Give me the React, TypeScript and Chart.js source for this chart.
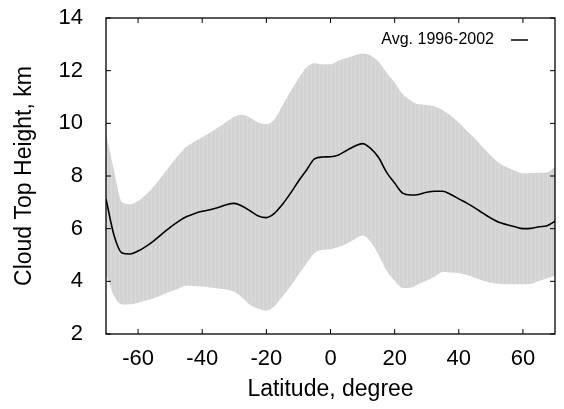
import React, { useEffect, useRef } from "react";
import { Chart, registerables } from "chart.js";

Chart.register(...registerables);

const latitudes = [
  -70, -67.5, -65, -62.5, -60, -57.5, -55, -52.5, -50, -47.5, -45, -42.5, -40, -37.5, -35, -32.5, -30, -27.5,
  -25, -22.5, -20, -17.5, -15, -12.5, -10, -7.5, -5, -2.5, 0, 2.5, 5, 7.5, 10, 12.5, 15, 17.5, 20, 22.5, 25,
  27.5, 30, 32.5, 35, 37.5, 40, 42.5, 45, 47.5, 50, 52.5, 55, 57.5, 60, 62.5, 65, 67.5, 70,
];

const meanHeight = [
  7.13, 5.75, 5.08, 5.04, 5.15, 5.33, 5.55, 5.8, 6.05, 6.27, 6.45, 6.57, 6.66, 6.72, 6.8, 6.91, 6.96, 6.85,
  6.67, 6.48, 6.42, 6.58, 6.92, 7.34, 7.8, 8.22, 8.65, 8.72, 8.73, 8.8, 8.97, 9.13, 9.23, 9.05, 8.7, 8.14, 7.73,
  7.35, 7.28, 7.3, 7.38, 7.42, 7.42, 7.3, 7.13, 6.97, 6.79, 6.59, 6.4, 6.24, 6.15, 6.07, 6.0, 6.01, 6.07, 6.11,
  6.28,
];

const upperHeight = [
  9.64, 8.2, 7.0, 6.93, 7.05, 7.3, 7.62, 8.0, 8.4, 8.78, 9.1, 9.3, 9.47, 9.65, 9.85, 10.05, 10.25, 10.33, 10.21,
  10.03, 9.97, 10.15, 10.68, 11.2, 11.7, 12.12, 12.28, 12.24, 12.24, 12.38, 12.48, 12.58, 12.65, 12.58, 12.34,
  11.92, 11.55, 11.1, 10.87, 10.72, 10.7, 10.64, 10.5, 10.3, 10.03, 9.72, 9.43, 9.08, 8.78, 8.5, 8.33, 8.2, 8.1,
  8.11, 8.12, 8.13, 8.35,
];

const lowerHeight = [
  4.3, 3.45, 3.12, 3.13, 3.19, 3.27, 3.36, 3.48, 3.61, 3.72, 3.83, 3.82, 3.8, 3.77, 3.73, 3.69, 3.6, 3.38, 3.1,
  2.96, 2.89, 3.05, 3.42, 3.8, 4.25, 4.68, 5.07, 5.2, 5.22, 5.3, 5.43, 5.6, 5.74, 5.5, 5.0, 4.4, 4.02, 3.75, 3.76,
  3.9, 4.03, 4.18, 4.35, 4.34, 4.31, 4.24, 4.14, 4.03, 3.95, 3.91, 3.89, 3.89, 3.89, 3.91, 4.01, 4.12, 4.21,
];

const xTickValues = [-60, -40, -20, 0, 20, 40, 60];
const yTickValues = [2, 4, 6, 8, 10, 12, 14];
const legendLabel = "Avg. 1996-2002";
const xTitle = "Latitude, degree";
const yTitle = "Cloud Top Height, km";

const FONT = "'Liberation Sans', Arial, Helvetica, sans-serif";

function makeBandPattern(): CanvasPattern | string {
  const c = document.createElement("canvas");
  c.width = 4;
  c.height = 1;
  const g = c.getContext("2d");
  if (!g) return "#d3d3d3";
  g.fillStyle = "#d3d3d3";
  g.fillRect(0, 0, 4, 1);
  g.fillStyle = "#dadada";
  g.fillRect(3, 0, 1, 1);
  const p = g.createPattern(c, "repeat");
  return p || "#d3d3d3";
}

const frameAndLegend = {
  id: "frameAndLegend",
  afterDatasetsDraw(chart: any) {
    const { ctx, chartArea } = chart;
    const { left, right, top, bottom } = chartArea;
    const xs = chart.scales.x;
    const ys = chart.scales.y;
    ctx.save();
    ctx.strokeStyle = "#000";
    ctx.lineWidth = 1.3;
    ctx.strokeRect(left, top, right - left, bottom - top);
    const tl = 5;
    ctx.beginPath();
    for (const v of xTickValues) {
      const px = xs.getPixelForValue(v);
      ctx.moveTo(px, bottom);
      ctx.lineTo(px, bottom - tl);
      ctx.moveTo(px, top);
      ctx.lineTo(px, top + tl);
    }
    for (const v of yTickValues) {
      const py = ys.getPixelForValue(v);
      ctx.moveTo(left, py);
      ctx.lineTo(left + tl, py);
      ctx.moveTo(right, py);
      ctx.lineTo(right - tl, py);
    }
    ctx.lineWidth = 1;
    ctx.stroke();

    // legend
    ctx.font = `16px ${FONT}`;
    ctx.fillStyle = "#000";
    ctx.textAlign = "right";
    ctx.textBaseline = "middle";
    const ly = top + 22;
    ctx.fillText(legendLabel, right - 61, ly);
    ctx.beginPath();
    ctx.moveTo(right - 44, ly);
    ctx.lineTo(right - 27, ly);
    ctx.lineWidth = 1.5;
    ctx.stroke();
    ctx.restore();
  },
};

export default function App() {
  const ref = useRef<HTMLCanvasElement | null>(null);

  useEffect(() => {
    document.body.style.margin = "0";
    const canvas = ref.current;
    if (!canvas) return;
    const band = makeBandPattern();
    const pts = (ys: number[]) => latitudes.map((x, i) => ({ x, y: ys[i] }));

    const chart = new Chart(canvas, {
      type: "line",
      data: {
        datasets: [
          {
            label: legendLabel,
            data: pts(meanHeight),
            borderColor: "#000",
            borderWidth: 1.6,
            pointRadius: 0,
            fill: false,
            cubicInterpolationMode: "monotone",
          },
          {
            label: "upper",
            data: pts(upperHeight),
            borderWidth: 0,
            borderColor: "rgba(0,0,0,0)",
            backgroundColor: band as any,
            pointRadius: 0,
            fill: 2,
            cubicInterpolationMode: "monotone",
          },
          {
            label: "lower",
            data: pts(lowerHeight),
            borderWidth: 0,
            borderColor: "rgba(0,0,0,0)",
            pointRadius: 0,
            fill: false,
            cubicInterpolationMode: "monotone",
          },
        ],
      },
      options: {
        animation: false,
        responsive: false,
        maintainAspectRatio: false,
        layout: { padding: { top: 18, right: 9, left: 0, bottom: 0 } },
        plugins: {
          legend: { display: false },
          tooltip: { enabled: false },
        },
        scales: {
          x: {
            type: "linear",
            min: -70,
            max: 70,
            grid: { display: false },
            border: { display: false },
            afterBuildTicks: (s: any) => {
              s.ticks = xTickValues.map((v) => ({ value: v }));
            },
            afterFit: (s: any) => {
              s.height = 75;
              s.paddingLeft = 0;
              s.paddingRight = 0;
            },
            ticks: {
              color: "#000",
              font: { family: FONT, size: 22 },
              padding: 4,
              maxRotation: 0,
              autoSkip: false,
            },
            title: {
              display: true,
              text: xTitle,
              color: "#000",
              font: { family: FONT, size: 23 },
              padding: { top: 0, bottom: 6 },
            },
          },
          y: {
            type: "linear",
            min: 2,
            max: 14,
            grid: { display: false },
            border: { display: false },
            afterBuildTicks: (s: any) => {
              s.ticks = yTickValues.map((v) => ({ value: v }));
            },
            afterFit: (s: any) => {
              s.width = 106;
              s.paddingTop = 0;
              s.paddingBottom = 0;
            },
            ticks: {
              color: "#000",
              font: { family: FONT, size: 22 },
              padding: 15,
              autoSkip: false,
            },
            title: {
              display: true,
              text: yTitle,
              color: "#000",
              font: { family: FONT, size: 23 },
              padding: { top: 11, bottom: 0 },
            },
          },
        },
      },
      plugins: [frameAndLegend],
    });
    return () => chart.destroy();
  }, []);

  return (
    <canvas
      ref={ref}
      width={564}
      height={409}
      style={{ position: "absolute", left: 0, top: 0, width: 564, height: 409, display: "block" }}
    />
  );
}
